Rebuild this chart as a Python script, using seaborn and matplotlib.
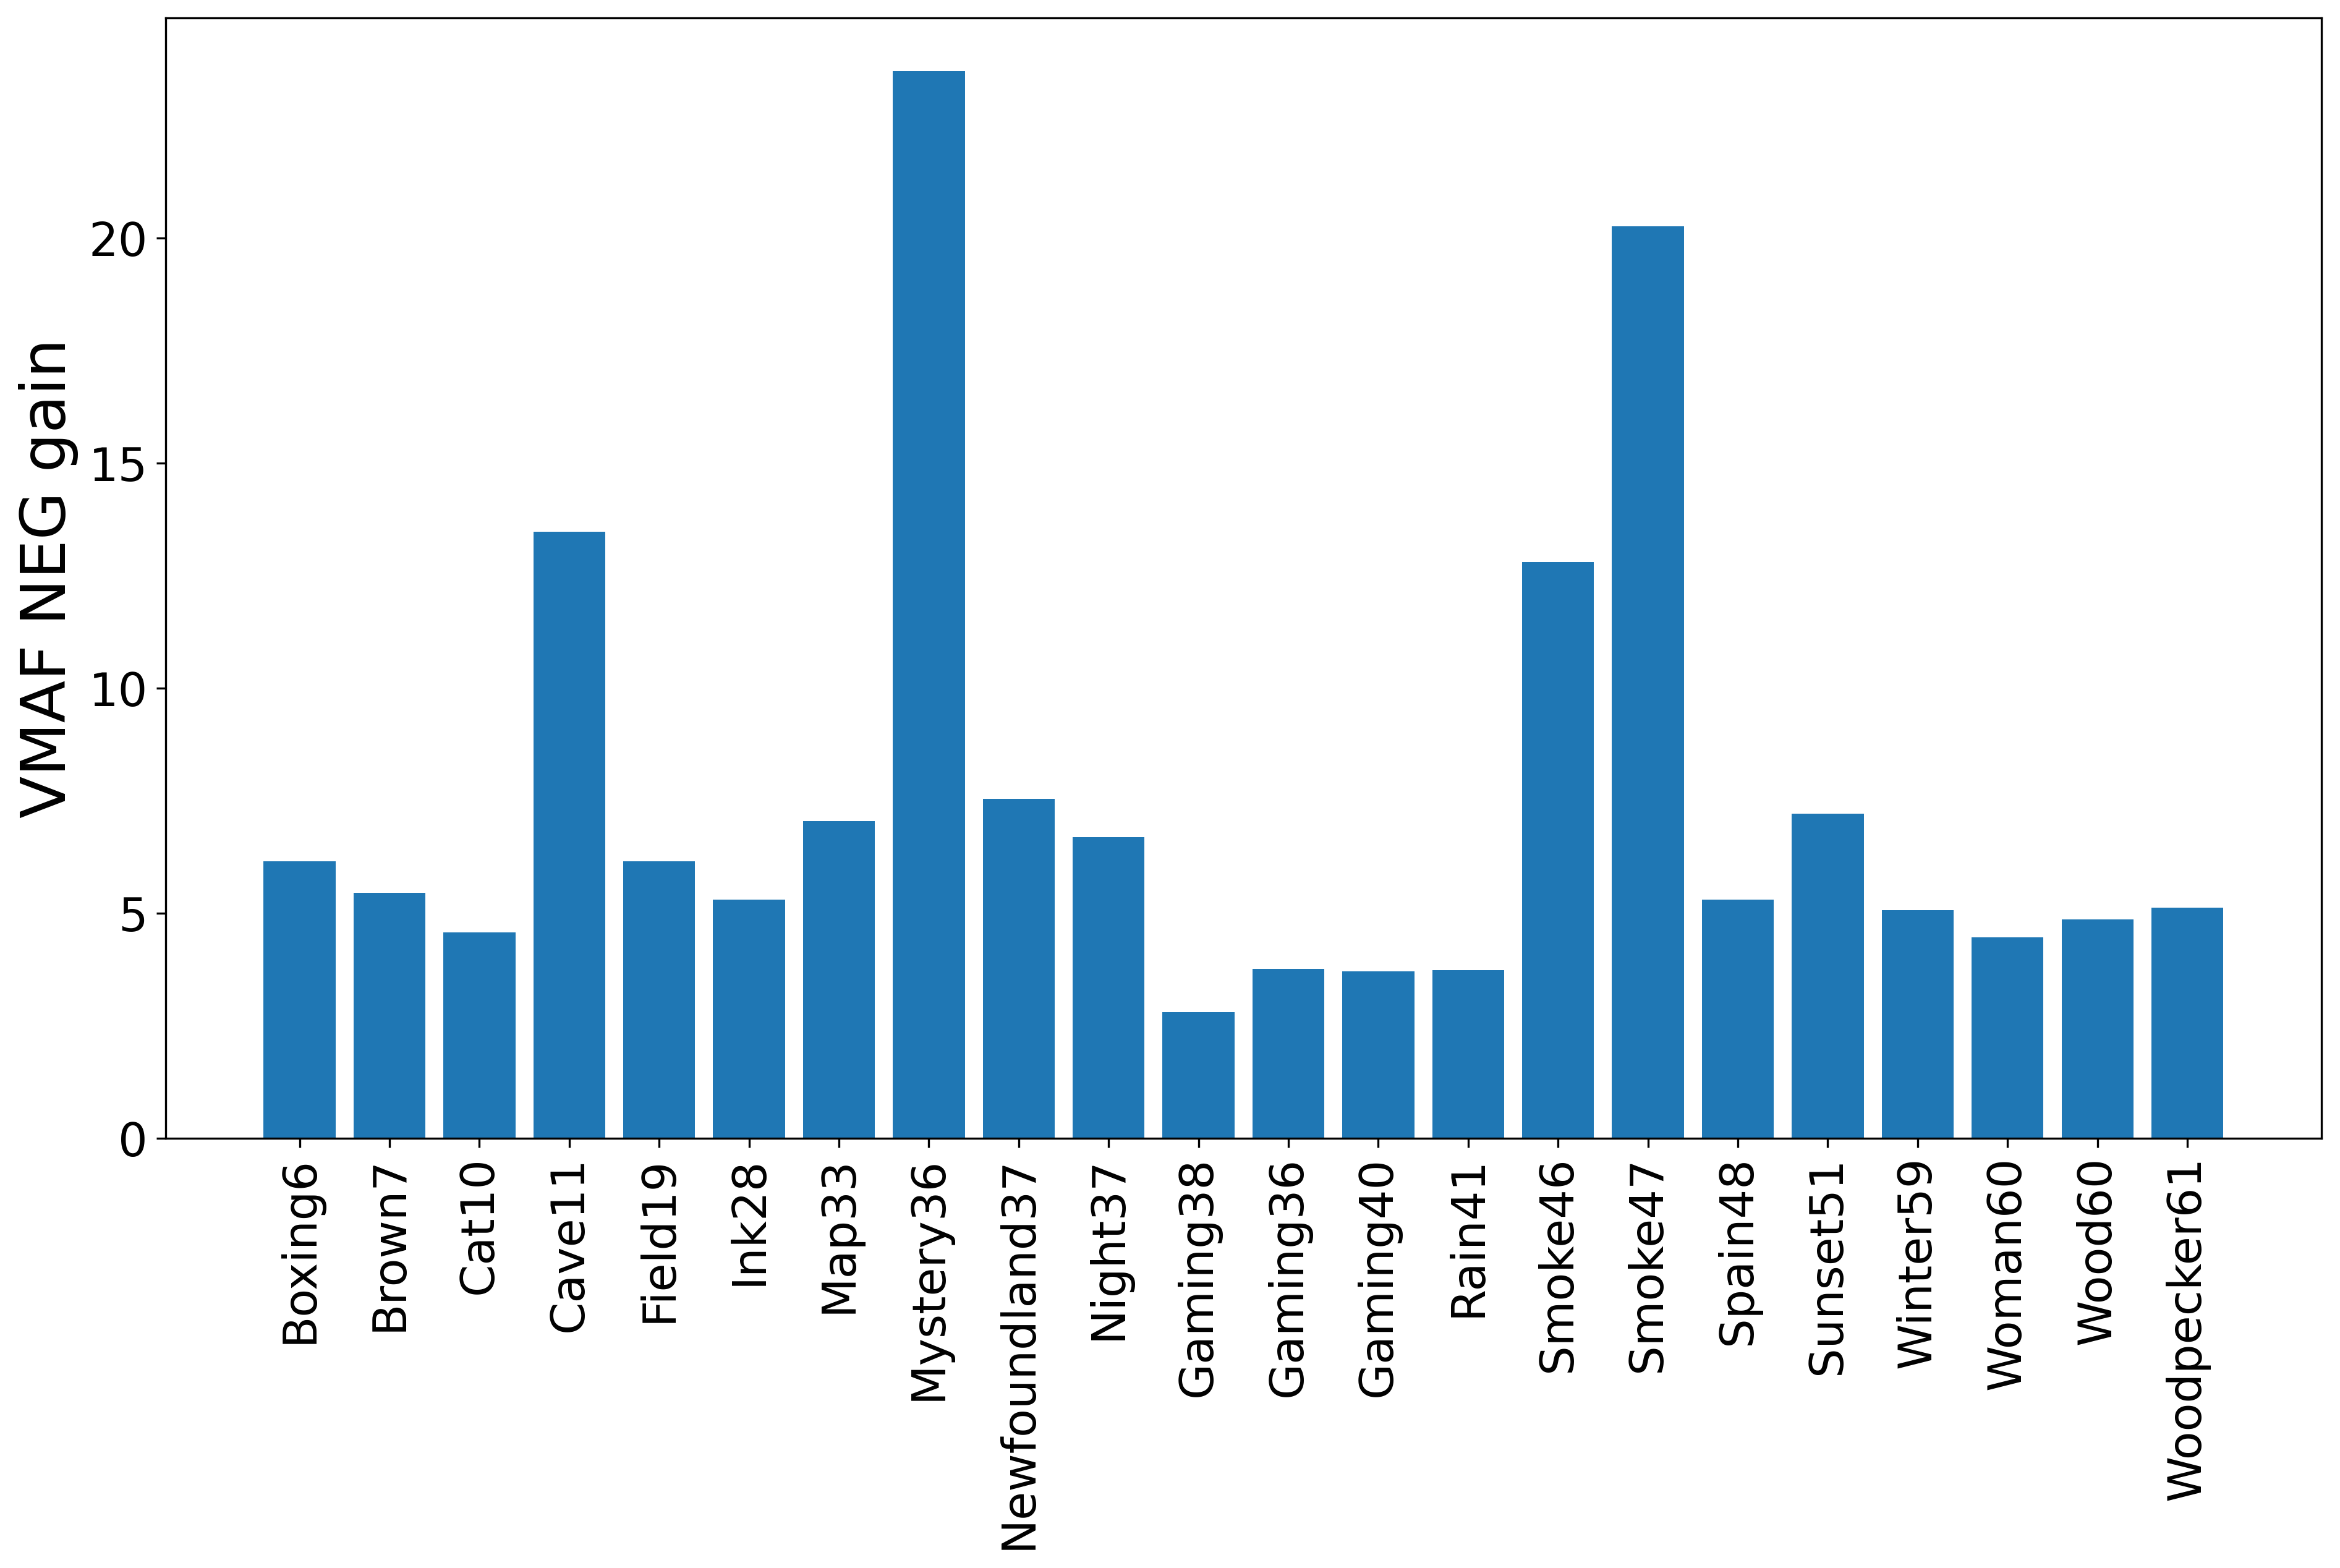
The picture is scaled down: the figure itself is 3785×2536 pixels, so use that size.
import matplotlib
matplotlib.use("Agg")
import matplotlib.pyplot as plt
import seaborn as sns
import pandas as pd

videos = ["Boxing6", "Brown7", "Cat10", "Cave11", "Field19", "Ink28", "Map33",
          "Mystery36", "Newfoundland37", "Night37", "Gaming38", "Gaming36",
          "Gaming40", "Rain41", "Smoke46", "Smoke47", "Spain48", "Sunset51",
          "Winter59", "Woman60", "Wood60", "Woodpecker61"]
vmaf_neg_gain = [6.16, 5.46, 4.57, 13.48, 6.16, 5.30, 7.05,
                 23.71, 7.55, 6.69, 2.81, 3.77,
                 3.71, 3.74, 12.81, 20.26, 5.30, 7.22,
                 5.07, 4.47, 4.87, 5.13]

df = pd.DataFrame({"video": videos, "gain": vmaf_neg_gain})

fig, ax = plt.subplots(figsize=(3785/300, 2536/300), dpi=300)
sns.barplot(data=df, x="video", y="gain", color="#1f77b4", saturation=1,
            width=0.8, ax=ax)

# matplotlib-like default margins on x
n = len(videos)
ax.set_xlim(-0.4 - 0.05*(n - 0.2), n - 1 + 0.4 + 0.05*(n - 0.2))
ax.set_ylim(0, max(vmaf_neg_gain)*1.05)

ax.set_xlabel("")
ax.set_ylabel("VMAF NEG gain", fontsize=24)
ax.tick_params(axis="x", labelsize=18, rotation=90)
ax.tick_params(axis="y", labelsize=18)

plt.subplots_adjust(left=0.0708, right=0.992, top=0.9886, bottom=0.274)
plt.savefig("out.png", dpi=300)
